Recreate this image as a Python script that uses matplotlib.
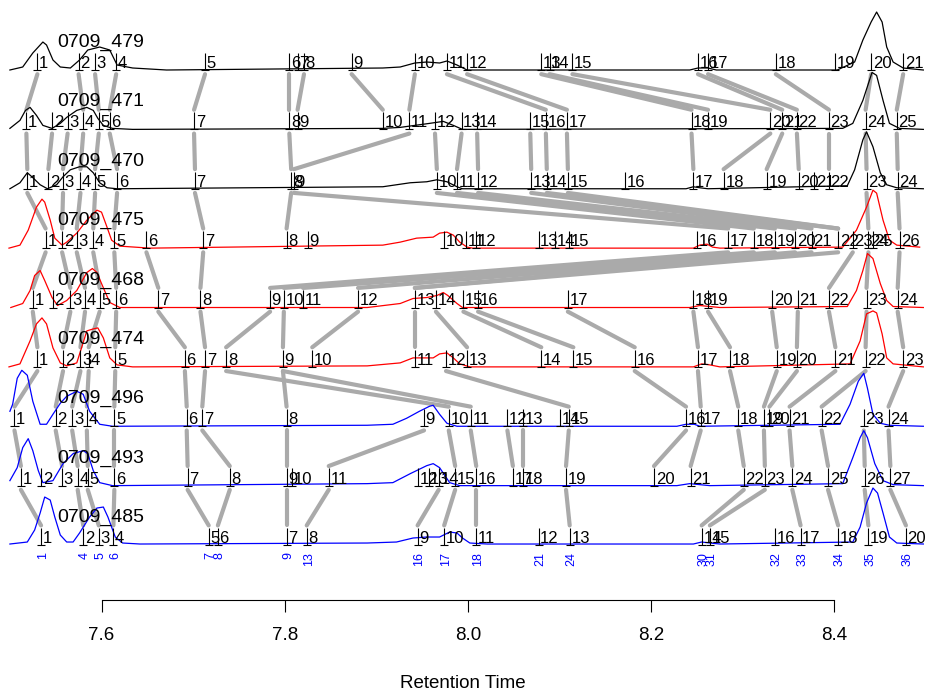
import matplotlib
matplotlib.use("Agg")
import matplotlib.pyplot as plt
import numpy as np

plt.rcParams['font.family'] = ['Liberation Sans', 'DejaVu Sans']

# samples, top to bottom
samples = ["0709_479", "0709_471", "0709_470", "0709_475", "0709_468",
           "0709_474", "0709_496", "0709_493", "0709_485"]
trace_colors = ["black"] * 3 + ["red"] * 3 + ["blue"] * 3

# detected peaks (retention time) per sample
pk_479 = [7.530, 7.575, 7.593, 7.616, 7.713, 7.805, 7.814, 7.821, 7.873, 7.942, 7.977,
          7.999, 8.080, 8.089, 8.114, 8.251, 8.262, 8.336, 8.401, 8.440, 8.475]
pk_471 = [7.518, 7.546, 7.563, 7.580, 7.597, 7.609, 7.701, 7.805, 7.814, 7.907, 7.936,
          7.964, 7.993, 8.010, 8.068, 8.085, 8.108, 8.244, 8.262, 8.330, 8.343, 8.359,
          8.394, 8.434, 8.468]
pk_470 = [7.519, 7.542, 7.558, 7.577, 7.593, 7.617, 7.702, 7.807, 7.810, 7.966, 7.988,
          8.011, 8.069, 8.086, 8.109, 8.171, 8.246, 8.279, 8.326, 8.361, 8.378, 8.394,
          8.435, 8.469]
pk_475 = [7.539, 7.557, 7.573, 7.591, 7.614, 7.649, 7.711, 7.802, 7.825, 7.974, 7.998,
          8.009, 8.077, 8.095, 8.110, 8.250, 8.284, 8.312, 8.335, 8.357, 8.375, 8.404,
          8.420, 8.437, 8.442, 8.471]
pk_468 = [7.525, 7.547, 7.566, 7.582, 7.598, 7.616, 7.662, 7.708, 7.784, 7.799, 7.820,
          7.880, 7.942, 7.965, 7.995, 8.011, 8.109, 8.246, 8.262, 8.332, 8.360, 8.394,
          8.435, 8.469]
pk_474 = [7.530, 7.558, 7.577, 7.586, 7.615, 7.691, 7.713, 7.736, 7.798, 7.830, 7.942,
          7.976, 7.999, 8.080, 8.115, 8.182, 8.251, 8.286, 8.337, 8.359, 8.401, 8.434,
          8.475]
pk_496 = [7.505, 7.550, 7.568, 7.584, 7.614, 7.693, 7.710, 7.802, 7.952, 7.979, 8.003,
          8.043, 8.060, 8.100, 8.110, 8.238, 8.254, 8.295, 8.323, 8.329, 8.351, 8.386,
          8.432, 8.459]
pk_493 = [7.512, 7.534, 7.557, 7.574, 7.585, 7.614, 7.694, 7.740, 7.802, 7.808, 7.848,
          7.945, 7.957, 7.968, 7.986, 8.009, 8.049, 8.060, 8.107, 8.203, 8.243, 8.301,
          8.324, 8.354, 8.393, 8.433, 8.461]
pk_485 = [7.534, 7.580, 7.597, 7.613, 7.717, 7.727, 7.802, 7.824, 7.945, 7.974, 8.009,
          8.077, 8.111, 8.255, 8.264, 8.335, 8.363, 8.404, 8.437, 8.478]

# chromatograms: retention time and signal
rt_479 = [7.500, 7.514, 7.525, 7.536, 7.540, 7.547, 7.555, 7.566, 7.576, 7.585, 7.598,
          7.609, 7.617, 7.634, 7.671, 7.907, 7.926, 7.942, 7.955, 7.969, 7.977, 7.988,
          7.999, 8.242, 8.251, 8.262, 8.271, 8.403, 8.422, 8.431, 8.440, 8.446, 8.452,
          8.457, 8.464, 8.475, 8.497]
sig_479 = [0, 3, 17, 28, 25, 10, 3, 2, 10, 20, 23, 20, 5, 2, 0, 2, 3, 7, 8, 7, 9, 5, 0,
           0, 2, 2, 0, 0, 8, 30, 48, 58, 48, 23, 8, 2, 0]
rt_471 = [7.500, 7.511, 7.517, 7.522, 7.529, 7.536, 7.546, 7.555, 7.562, 7.573, 7.584,
          7.591, 7.596, 7.602, 7.612, 7.634, 7.907, 7.926, 7.942, 7.958, 7.973, 7.984,
          7.994, 8.409, 8.420, 8.431, 8.441, 8.446, 8.453, 8.460, 8.471, 8.497]
sig_471 = [1, 9, 19, 22, 14, 4, 1, 6, 12, 19, 22, 19, 11, 4, 1, 0, 1, 2, 4, 6, 8, 4, 0,
           1, 6, 29, 57, 54, 29, 6, 1, 0]
rt_470 = [7.500, 7.511, 7.519, 7.524, 7.533, 7.541, 7.551, 7.558, 7.566, 7.576, 7.584,
          7.591, 7.598, 7.606, 7.617, 7.907, 7.937, 7.955, 7.966, 7.977, 7.988, 7.994,
          8.238, 8.246, 8.253, 8.262, 8.414, 8.422, 8.431, 8.435, 8.442, 8.450, 8.457,
          8.468, 8.497]
sig_470 = [0, 6, 16, 12, 4, 0, 4, 12, 19, 22, 22, 16, 6, 1, 0, 2, 6, 7, 9, 7, 2, 0,
           0, 2, 1, 0, 3, 19, 49, 57, 42, 16, 4, 1, 0]
rt_475 = [7.499, 7.511, 7.520, 7.529, 7.535, 7.538, 7.544, 7.549, 7.557, 7.562, 7.573,
          7.584, 7.595, 7.600, 7.606, 7.611, 7.620, 7.653, 7.907, 7.926, 7.944, 7.962,
          7.969, 7.977, 7.984, 7.991, 7.999, 8.005, 8.246, 8.253, 8.261, 8.267, 8.275,
          8.409, 8.424, 8.435, 8.442, 8.446, 8.453, 8.460, 8.468, 8.493]
sig_475 = [0, 3, 18, 41, 49, 46, 28, 10, 3, 6, 15, 28, 38, 36, 21, 8, 2, 0, 3, 6, 10,
           11, 15, 16, 13, 6, 1, 0, 0, 3, 4, 1, 0, 1, 18, 41, 58, 55, 28, 8, 3, 1]
rt_468 = [7.501, 7.514, 7.522, 7.527, 7.533, 7.538, 7.546, 7.552, 7.562, 7.573, 7.584,
          7.590, 7.595, 7.600, 7.609, 7.620, 7.890, 7.926, 7.940, 7.955, 7.966, 7.973,
          7.978, 7.988, 7.994, 8.242, 8.253, 8.264, 8.275, 8.414, 8.424, 8.431, 8.436,
          8.442, 8.450, 8.457, 8.464, 8.497]
sig_468 = [0, 4, 17, 32, 37, 27, 10, 2, 7, 17, 35, 39, 35, 24, 5, 0, 0, 4, 9, 10, 12,
           15, 12, 4, 0, 0, 2, 1, 0, 1, 17, 37, 54, 49, 24, 7, 1, 0]
rt_474 = [7.499, 7.511, 7.522, 7.529, 7.535, 7.540, 7.547, 7.555, 7.562, 7.573, 7.584,
          7.591, 7.596, 7.602, 7.609, 7.617, 7.634, 7.890, 7.926, 7.940, 7.962, 7.969,
          7.977, 7.984, 7.991, 8.002, 8.246, 8.255, 8.264, 8.275, 8.417, 8.428, 8.435,
          8.442, 8.446, 8.452, 8.457, 8.464, 8.497]
sig_474 = [0, 3, 26, 43, 49, 43, 19, 4, 1, 4, 36, 38, 39, 29, 9, 2, 0, 1, 4, 9, 9, 13,
           14, 9, 3, 0, 0, 3, 2, 0, 3, 26, 53, 56, 54, 33, 9, 3, 0]
rt_496 = [7.500, 7.503, 7.508, 7.513, 7.519, 7.525, 7.533, 7.540, 7.547, 7.555, 7.562,
          7.573, 7.580, 7.587, 7.598, 7.612, 7.890, 7.918, 7.933, 7.947, 7.958, 7.962,
          7.969, 7.977, 7.988, 8.228, 8.238, 8.247, 8.253, 8.406, 8.417, 8.426, 8.432,
          8.436, 8.442, 8.450, 8.460, 8.497]
sig_496 = [15, 22, 48, 56, 51, 25, 2, 2, 12, 23, 30, 35, 32, 15, 2, 0, 1, 2, 8, 15, 20,
           21, 12, 3, 0, 0, 2, 2, 0, 2, 22, 45, 53, 38, 12, 3, 1, 0]
rt_493 = [7.500, 7.508, 7.514, 7.520, 7.525, 7.531, 7.536, 7.547, 7.558, 7.569, 7.580,
          7.585, 7.591, 7.598, 7.612, 7.890, 7.918, 7.937, 7.955, 7.962, 7.969, 7.980,
          7.991, 8.228, 8.242, 8.253, 8.264, 8.409, 8.420, 8.428, 8.432, 8.436, 8.444,
          8.453, 8.464, 8.497]
sig_493 = [5, 18, 38, 47, 35, 15, 3, 5, 22, 32, 35, 32, 15, 3, 0, 2, 3, 12, 20, 22, 18,
           3, 0, 0, 2, 1, 0, 2, 28, 48, 55, 48, 22, 5, 1, 0]
rt_485 = [7.500, 7.519, 7.527, 7.533, 7.538, 7.544, 7.549, 7.555, 7.562, 7.569, 7.576,
          7.587, 7.595, 7.602, 7.607, 7.615, 7.623, 7.642, 7.890, 7.922, 7.940, 7.955,
          7.969, 7.980, 7.988, 7.994, 8.002, 8.021, 8.246, 8.255, 8.264, 8.275, 8.420,
          8.428, 8.435, 8.442, 8.447, 8.453, 8.460, 8.468, 8.497]
sig_485 = [1, 3, 15, 32, 48, 45, 28, 10, 3, 3, 12, 28, 37, 38, 28, 8, 2, 1, 2, 3, 7, 8,
           8, 13, 12, 7, 2, 1, 1, 3, 2, 1, 3, 18, 42, 57, 52, 32, 8, 2, 1]

# matched peaks between neighbouring samples (peak numbers, upper -> lower)
m_479_471 = [(1, 1), (2, 4), (3, 5), (4, 6), (5, 7), (6, 8), (8, 9), (9, 10), (10, 11),
             (11, 16), (12, 17), (13, 18), (14, 19), (15, 20), (16, 21), (17, 22),
             (18, 23), (20, 24), (21, 25)]
m_471_470 = [(1, 1), (2, 2), (3, 3), (4, 4), (5, 5), (6, 6), (7, 7), (8, 8), (11, 9),
             (12, 10), (13, 11), (14, 12), (15, 13), (16, 14), (17, 15), (18, 17),
             (20, 18), (21, 19), (22, 20), (23, 22), (24, 23), (25, 24)]
m_470_475 = [(1, 1), (3, 2), (4, 3), (5, 4), (6, 5), (7, 7), (8, 8), (9, 17), (10, 18),
             (11, 19), (12, 20), (13, 21), (14, 22), (15, 22), (23, 24), (24, 26)]
m_475_468 = [(1, 1), (2, 3), (3, 4), (4, 5), (5, 6), (6, 7), (7, 8), (17, 9), (18, 10),
             (19, 11), (20, 12), (21, 13), (22, 13), (23, 22), (24, 23), (26, 24)]
m_468_474 = [(1, 1), (3, 2), (4, 3), (5, 4), (6, 5), (7, 6), (8, 7), (9, 8), (10, 9),
             (12, 10), (13, 11), (14, 13), (15, 14), (16, 15), (17, 16), (18, 17),
             (19, 18), (20, 19), (21, 20), (22, 21), (23, 22), (24, 23)]
m_474_496 = [(1, 1), (2, 2), (3, 3), (4, 4), (5, 5), (6, 6), (7, 7), (8, 10), (9, 8),
             (9, 11), (12, 15), (16, 16), (17, 17), (18, 18), (19, 19), (20, 20),
             (21, 21), (22, 22), (23, 24)]
m_496_493 = [(1, 1), (2, 3), (3, 4), (4, 5), (5, 6), (6, 7), (7, 8), (8, 9), (9, 11),
             (10, 15), (11, 16), (12, 17), (13, 18), (15, 19), (16, 20), (17, 21),
             (18, 22), (19, 23), (21, 24), (22, 25), (23, 26), (24, 27)]
m_493_485 = [(1, 1), (4, 2), (5, 3), (6, 4), (7, 5), (8, 6), (9, 7), (11, 8), (14, 9),
             (15, 10), (16, 11), (19, 13), (22, 14), (23, 15), (24, 17), (25, 18),
             (26, 19), (27, 20)]

# alignment group of each peak in the last sample
groups_485 = [1, 4, 5, 6, 7, 8, 9, 13, 16, 17, 18, 21, 24, 30, 31, 32, 33, 34, 35, 36]

peaks = [pk_479, pk_471, pk_470, pk_475, pk_468, pk_474, pk_496, pk_493, pk_485]
rts = [rt_479, rt_471, rt_470, rt_475, rt_468, rt_474, rt_496, rt_493, rt_485]
sigs = [sig_479, sig_471, sig_470, sig_475, sig_468, sig_474, sig_496, sig_493, sig_485]
matches = [m_479_471, m_471_470, m_470_475, m_475_468, m_468_474, m_474_496,
           m_496_493, m_493_485]

ROW = 59.4          # signal units per row of the stack
n = len(samples)
base = [n - 1 - i for i in range(n)]

fig = plt.figure(figsize=(9.26, 6.92), dpi=100)
ax = fig.add_axes([0, 92 / 692, 1, 600 / 692])
ax.set_xlim(7.4892, 8.4999)
ax.set_ylim(-0.926, 9.179)

# grey links between matched peaks
for i, m in enumerate(matches):
    up, lo = peaks[i], peaks[i + 1]
    for a, b in m:
        ax.plot([up[a - 1], lo[b - 1]], [base[i] - 0.07, base[i + 1] + 0.33],
                color='#aaaaaa', lw=3, solid_capstyle='round', zorder=1)

for i in range(n):
    y0 = base[i]
    ax.plot(rts[i], y0 + np.array(sigs[i]) / ROW, color=trace_colors[i], lw=0.9, zorder=2)
    pk = np.array(peaks[i])
    ax.vlines(pk, y0, y0 + 0.29, color='black', lw=0.8, zorder=3)
    ax.hlines(np.full(len(pk), y0), pk - 0.0044, pk + 0.0044, color='black', lw=0.8, zorder=3)
    for j, p in enumerate(pk):
        ax.text(p + 0.0018, y0 + 0.035, str(j + 1), fontsize=12, ha='left',
                va='baseline', zorder=4)
    ax.text(7.5513, y0 + 0.39, samples[i], fontsize=14, ha='left', va='baseline', zorder=4)

for p, g in zip(pk_485, groups_485):
    ax.text(p + 0.002, base[-1] - 0.12, str(g), rotation=90, ha='center', va='top',
            color='blue', fontsize=9)

for s in ['top', 'left', 'right']:
    ax.spines[s].set_visible(False)
ax.spines['bottom'].set_bounds(7.6, 8.4)
ax.spines['bottom'].set_linewidth(0.8)
ax.set_yticks([])
ax.set_xticks([7.6, 7.8, 8.0, 8.2, 8.4])
ax.set_xticklabels(["7.6", "7.8", "8.0", "8.2", "8.4"])
ax.tick_params(axis='x', length=8.6, width=0.8, pad=11, labelsize=13.5)
ax.set_xlabel("Retention Time", fontsize=13.5, labelpad=22)
ax.patch.set_visible(False)

fig.savefig("out.png", dpi=100)
